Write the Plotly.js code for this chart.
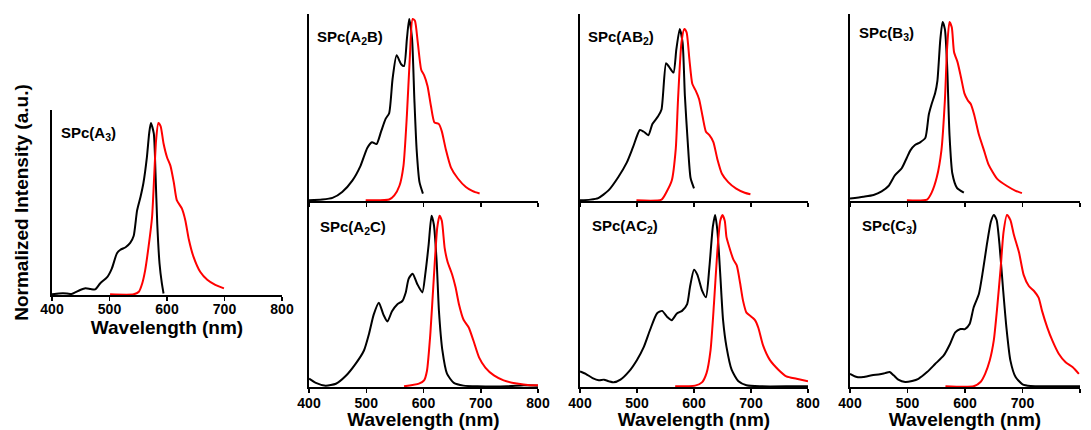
<!DOCTYPE html>
<html>
<head>
<meta charset="utf-8">
<script src="https://cdn.plot.ly/plotly-3.0.1.min.js"></script>
<style>
html,body{margin:0;padding:0;background:#fff;}
#chart{width:1091px;height:430px;}
</style>
</head>
<body>
<div id="chart"></div>
<script>
// ---- Data (wavelength in nm, normalized intensity) ----
const panelNames = ["SPc(A<sub>3</sub>)", "SPc(A<sub>2</sub>B)", "SPc(AB<sub>2</sub>)", "SPc(B<sub>3</sub>)", "SPc(A<sub>2</sub>C)", "SPc(AC<sub>2</sub>)", "SPc(C<sub>3</sub>)"];
const xTicks = [400, 500, 600, 700, 800];
const xTickLabels = ["400", "500", "600", "700", "800"];

// SPc(A3)
const a3AbsX = [400,412,426,434,449,458,467,475,484,496,504,513,519,528,536,542,548,554,559,565,569,572,577,580,583,587,591,594];
const a3AbsY = [0,0.005,0.005,0.002,0.025,0.035,0.031,0.029,0.065,0.10,0.15,0.24,0.26,0.275,0.30,0.34,0.49,0.57,0.65,0.80,0.94,1.0,0.94,0.71,0.415,0.18,0.065,0.005];
const a3EmX = [501,542,551,557,562,568,574,578,581,585,589,594,600,606,612,617,626,632,638,646,658,670,684,699];
const a3EmY = [0,0,0.015,0.065,0.14,0.28,0.45,0.71,0.90,1.0,0.98,0.88,0.80,0.75,0.65,0.55,0.50,0.43,0.32,0.22,0.13,0.085,0.055,0.035];

// SPc(A2B)
const a2bAbsX = [400,423,441,458,476,490,502,510,518,526,534,540,546,553,561,566,571,575,580,584,588,593,599];
const a2bAbsY = [0,0.004,0.013,0.046,0.11,0.19,0.29,0.32,0.31,0.38,0.45,0.48,0.67,0.80,0.75,0.74,0.89,1.0,0.89,0.56,0.28,0.10,0.037];
const a2bEmX = [499,540,549,558,565,571,576,581,585,590,596,601,607,613,619,627,632,639,648,660,674,686,698];
const a2bEmY = [0,0.004,0.027,0.08,0.19,0.47,0.78,1.0,0.99,0.87,0.72,0.69,0.63,0.52,0.43,0.42,0.38,0.28,0.18,0.12,0.073,0.05,0.037];

// SPc(AB2)
const ab2AbsX = [400,418,432,450,467,482,493,505,512,520,527,537,543,551,556,564,569,575,580,584,589,594,600];
const ab2AbsY = [0,0.004,0.013,0.058,0.135,0.22,0.31,0.41,0.40,0.38,0.445,0.49,0.53,0.80,0.78,0.745,0.88,1.0,0.92,0.61,0.34,0.13,0.07];
const ab2EmX = [499,543,552,561,568,572,578,583,587,592,597,603,609,615,621,627,634,641,649,660,674,689,699];
const ab2EmY = [0,0.004,0.05,0.115,0.30,0.59,0.92,1.0,0.98,0.82,0.68,0.64,0.59,0.49,0.40,0.38,0.34,0.24,0.155,0.106,0.068,0.044,0.035];

// SPc(B3)
const b3AbsX = [400,423,441,455,467,478,490,499,505,513,522,531,537,542,548,552,557,561,565,569,573,578,586,598];
const b3AbsY = [0.01,0.02,0.03,0.05,0.08,0.14,0.18,0.24,0.28,0.31,0.325,0.35,0.48,0.54,0.60,0.67,0.90,1.0,0.96,0.75,0.37,0.15,0.07,0.043];
const b3EmX = [499,534,542,551,559,565,569,573,577,581,587,593,599,605,610,616,624,633,641,656,673,688,699];
const b3EmY = [0,0.004,0.043,0.13,0.28,0.56,0.86,1.0,0.97,0.83,0.775,0.69,0.60,0.56,0.54,0.48,0.37,0.28,0.20,0.12,0.08,0.053,0.04];

// SPc(A2C)
const a2cAbsX = [400,412,429,447,464,481,496,505,513,522,530,537,545,554,563,569,574,581,589,598,603,609,614,618,623,627,633,641,653,670,694,746,775,800];
const a2cAbsY = [0.045,0.02,0.004,0.015,0.06,0.13,0.21,0.31,0.42,0.49,0.42,0.38,0.44,0.48,0.50,0.55,0.63,0.66,0.60,0.55,0.655,0.83,1.0,0.95,0.73,0.44,0.21,0.074,0.02,0.004,0,0,0.006,0.004];
const a2cEmX = [566,592,601,606,612,618,624,628,632,637,642,650,656,662,670,679,687,697,708,723,740,763,786,800];
const a2cEmY = [0,0.016,0.035,0.09,0.31,0.635,0.93,1.0,0.97,0.81,0.73,0.655,0.58,0.48,0.39,0.345,0.27,0.17,0.11,0.064,0.035,0.016,0.006,0.006];

// SPc(AC2)
const ac2AbsX = [400,410,422,433,442,451,459,471,486,500,512,523,535,544,553,561,570,579,588,593,600,606,614,621,627,633,637,641,646,651,657,666,678,692,716,774,800];
const ac2AbsY = [0.087,0.073,0.048,0.035,0.039,0.029,0.023,0.039,0.087,0.154,0.23,0.33,0.425,0.44,0.405,0.386,0.425,0.44,0.48,0.58,0.68,0.65,0.56,0.52,0.695,0.93,1.0,0.91,0.656,0.386,0.23,0.097,0.029,0.006,0,0,0];
const ac2EmX = [567,602,614,622,629,635,641,646,650,654,657,663,669,675,681,686,692,701,707,713,721,733,748,762,780,800];
const ac2EmY = [0,0.004,0.023,0.077,0.21,0.48,0.79,0.965,1.0,0.965,0.87,0.80,0.74,0.705,0.60,0.50,0.43,0.405,0.386,0.34,0.24,0.154,0.097,0.058,0.044,0.029];

// SPc(C3)
const c3AbsX = [400,412,423,438,452,461,469,476,484,496,508,519,534,548,563,574,583,592,600,608,615,624,631,638,645,650,655,660,666,672,679,688,700,714,743,800];
const c3AbsY = [0.073,0.054,0.054,0.064,0.07,0.077,0.083,0.064,0.039,0.025,0.031,0.044,0.083,0.13,0.18,0.247,0.315,0.334,0.334,0.363,0.46,0.537,0.67,0.826,0.96,1.0,0.97,0.826,0.575,0.344,0.15,0.054,0.012,0.002,0,0];
const c3EmX = [566,615,627,635,643,650,656,662,667,673,679,685,694,702,711,720,728,734,743,752,763,775,787,798];
const c3EmY = [0,0,0.025,0.073,0.15,0.266,0.46,0.69,0.90,1.0,0.97,0.884,0.78,0.65,0.585,0.556,0.517,0.44,0.344,0.266,0.19,0.14,0.112,0.073];

const absX = [a3AbsX, a2bAbsX, ab2AbsX, b3AbsX, a2cAbsX, ac2AbsX, c3AbsX];
const absY = [a3AbsY, a2bAbsY, ab2AbsY, b3AbsY, a2cAbsY, ac2AbsY, c3AbsY];
const emX = [a3EmX, a2bEmX, ab2EmX, b3EmX, a2cEmX, ac2EmX, c3EmX];
const emY = [a3EmY, a2bEmY, ab2EmY, b3EmY, a2cEmY, ac2EmY, c3EmY];

// ---- Layout geometry (pixels) ----
const W = 1091, H = 430;
const boxes = [
  {l:52,  r:282,  t:110, b:295, ymax:1.076, labels:true,  title:true,  lx:59,  ly:133, tls:-4, tst:1},
  {l:309, r:538,  t:14,  b:201, ymax:1.027, labels:false, title:false, lx:315, ly:37},
  {l:580, r:808,  t:14,  b:201, ymax:1.087, labels:false, title:false, lx:586, ly:38},
  {l:850, r:1080, t:14,  b:201, ymax:1.045, labels:false, title:false, lx:857, ly:34},
  {l:309, r:538,  t:201, b:387, ymax:1.086, labels:true,  title:true,  lx:318, ly:228, tls:-2, tst:4},
  {l:580, r:808,  t:201, b:387, ymax:1.081, labels:true,  title:true,  lx:590, ly:226, tls:-2, tst:4},
  {l:850, r:1080, t:201, b:387, ymax:1.081, labels:true,  title:true,  lx:860, ly:226, tls:-2, tst:4}
];

const FONT = "Liberation Sans, Arial, sans-serif";
const data = [];
const layout = {
  width: W, height: H,
  margin: {l:0, r:0, t:0, b:0},
  paper_bgcolor: "#fff", plot_bgcolor: "rgba(0,0,0,0)",
  showlegend: false,
  font: {family: FONT, color: "#000"},
  annotations: []
};

boxes.forEach((bx, i) => {
  const n = i + 1;
  const xa = n === 1 ? "x" : "x" + n;
  const ya = n === 1 ? "y" : "y" + n;
  data.push({x: absX[i], y: absY[i], xaxis: xa, yaxis: ya, type: "scatter", mode: "lines",
             line: {color: "#000", width: 2, shape: "spline", smoothing: 0.6}, hoverinfo: "skip"});
  data.push({x: emX[i], y: emY[i], xaxis: xa, yaxis: ya, type: "scatter", mode: "lines",
             line: {color: "#ff0000", width: 2, shape: "spline", smoothing: 0.6}, hoverinfo: "skip"});
  const xk = n === 1 ? "xaxis" : "xaxis" + n;
  const yk = n === 1 ? "yaxis" : "yaxis" + n;
  const xaxis = {
    domain: [bx.l / W, bx.r / W], anchor: ya,
    range: [400, 800], tickvals: xTicks, ticktext: xTickLabels.map(s => "<b>" + s + "</b>"),
    showticklabels: bx.labels, ticks: "outside", ticklen: 4, tickwidth: 1.5, tickcolor: "#000",
    showline: true, linecolor: "#000", linewidth: 2, showgrid: false, zeroline: false,
    tickfont: {family: FONT, size: 14, color: "#000"},
    automargin: false, fixedrange: true
  };
  if (bx.labels) xaxis.ticklabelstandoff = bx.tls;
  if (bx.title) xaxis.title = {text: "<b>Wavelength (nm)</b>", font: {family: FONT, size: 19, color: "#000"}, standoff: bx.tst};
  layout[xk] = xaxis;
  const yaxis = {
    domain: [1 - bx.b / H, 1 - bx.t / H], anchor: xa,
    range: [-0.004, bx.ymax],
    showticklabels: false, ticks: "", showline: true, linecolor: "#000", linewidth: 2,
    showgrid: false, zeroline: false, automargin: false, fixedrange: true
  };
  if (n === 1) yaxis.title = {text: "<b>Normalized Intensity (a.u.)</b>", font: {family: FONT, size: 19, color: "#000"}, standoff: 16};
  layout[yk] = yaxis;
  layout.annotations.push({
    xref: "paper", yref: "paper", x: bx.lx / W, y: 1 - bx.ly / H,
    xanchor: "left", yanchor: "middle", showarrow: false,
    text: "<b>" + panelNames[i] + "</b>",
    font: {family: FONT, size: 15, color: "#000"}
  });
});

Plotly.newPlot("chart", data, layout, {staticPlot: true, displayModeBar: false});
</script>
</body>
</html>
